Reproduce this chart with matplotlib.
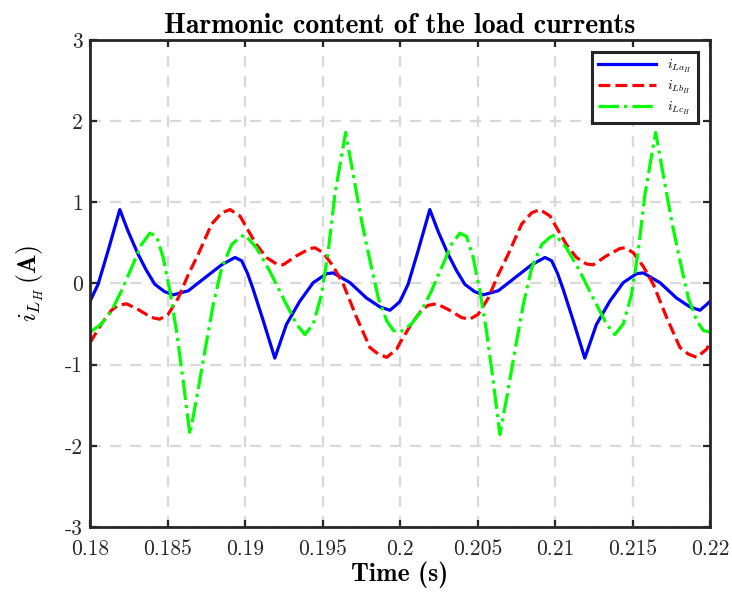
import numpy as np
import matplotlib
matplotlib.use('Agg')
import matplotlib.pyplot as plt

plt.rcParams.update({
    'font.family': 'serif',
    'font.serif': ['cmr10'],
    'mathtext.fontset': 'cm',
    'axes.unicode_minus': False,
    'axes.formatter.use_mathtext': True,
})

# Load current harmonic content, phase a / b / c (A)
t_a = [0.1800, 0.18052, 0.18116, 0.18192, 0.18246, 0.1831, 0.18364, 0.18418, 0.1848, 0.18537,
       0.18634, 0.18741, 0.18849, 0.18935, 0.18978, 0.19017, 0.19052, 0.19116, 0.19192, 0.19267,
       0.19353, 0.1944, 0.19526, 0.19569, 0.19677, 0.19784, 0.19871, 0.19935, 0.19978,
       0.2000, 0.20052, 0.20116, 0.20192, 0.20246, 0.2031, 0.20364, 0.20418, 0.2048, 0.20537,
       0.20634, 0.20741, 0.20849, 0.20935, 0.20978, 0.21017, 0.21052, 0.21116, 0.21192, 0.21267,
       0.21353, 0.2144, 0.21526, 0.21569, 0.21677, 0.21784, 0.21871, 0.21935, 0.21978, 0.2200]
i_a = [-0.22, -0.01, 0.40, 0.91, 0.64, 0.36, 0.16, -0.01, -0.10, -0.14,
       -0.09, 0.07, 0.23, 0.32, 0.28, 0.12, -0.07, -0.45, -0.92, -0.505,
       -0.22, 0.01, 0.12, 0.13, 0.01, -0.18, -0.29, -0.33, -0.26,
       -0.22, -0.01, 0.40, 0.91, 0.64, 0.36, 0.16, -0.01, -0.10, -0.14,
       -0.09, 0.07, 0.23, 0.32, 0.28, 0.12, -0.07, -0.45, -0.92, -0.505,
       -0.22, 0.01, 0.12, 0.13, 0.01, -0.18, -0.29, -0.33, -0.26, -0.22]

t_b = [0.1800, 0.18073, 0.18138, 0.18181, 0.18235, 0.1831, 0.18397, 0.1845, 0.18504, 0.18569,
       0.18634, 0.18698, 0.18784, 0.18849, 0.18903, 0.18968, 0.1900, 0.19073, 0.19138, 0.19203,
       0.19246, 0.19332, 0.19418, 0.1945, 0.19504, 0.19569, 0.19634, 0.1972, 0.19806, 0.1986,
       0.19914, 0.19978,
       0.2000, 0.20073, 0.20138, 0.20181, 0.20235, 0.2031, 0.20397, 0.2045, 0.20504, 0.20569,
       0.20634, 0.20698, 0.20784, 0.20849, 0.20903, 0.20968, 0.2100, 0.21073, 0.21138, 0.21203,
       0.21246, 0.21332, 0.21418, 0.2145, 0.21504, 0.21569, 0.21634, 0.2172, 0.21806, 0.2186,
       0.21914, 0.21978, 0.2200]
i_b = [-0.73, -0.50, -0.33, -0.27, -0.25, -0.32, -0.42, -0.44, -0.38, -0.18,
       0.11, 0.36, 0.73, 0.87, 0.91, 0.83, 0.72, 0.48, 0.32, 0.24,
       0.23, 0.34, 0.43, 0.44, 0.38, 0.21, -0.01, -0.42, -0.79, -0.87,
       -0.91, -0.81,
       -0.73, -0.50, -0.33, -0.27, -0.25, -0.32, -0.42, -0.44, -0.38, -0.18,
       0.11, 0.36, 0.73, 0.87, 0.91, 0.83, 0.72, 0.48, 0.32, 0.24,
       0.23, 0.34, 0.43, 0.44, 0.38, 0.21, -0.01, -0.42, -0.79, -0.87,
       -0.91, -0.81, -0.73]

t_c = [0.1800, 0.18073, 0.18138, 0.18203, 0.18267, 0.18332, 0.18386, 0.18429, 0.18472, 0.18515,
       0.18558, 0.18601, 0.18644, 0.18688, 0.18741, 0.18795, 0.18849, 0.18914, 0.18968, 0.1900,
       0.19073, 0.1916, 0.19246, 0.19332, 0.19386, 0.1944, 0.19493, 0.19537, 0.1958, 0.19649,
       0.19698, 0.19752, 0.19806, 0.1986, 0.19914, 0.19957,
       0.2000, 0.20073, 0.20138, 0.20203, 0.20267, 0.20332, 0.20386, 0.20429, 0.20472, 0.20515,
       0.20558, 0.20601, 0.20644, 0.20688, 0.20741, 0.20795, 0.20849, 0.20914, 0.20968, 0.2100,
       0.21073, 0.2116, 0.21246, 0.21332, 0.21386, 0.2144, 0.21493, 0.21537, 0.2158, 0.21649,
       0.21698, 0.21752, 0.21806, 0.2186, 0.21914, 0.21957, 0.2200]
i_c = [-0.60, -0.50, -0.34, -0.09, 0.19, 0.48, 0.62, 0.58, 0.32, -0.09,
       -0.59, -1.20, -1.86, -1.41, -0.83, -0.26, 0.19, 0.48, 0.57, 0.60,
       0.44, 0.15, -0.18, -0.50, -0.63, -0.50, -0.14, 0.40, 1.10, 1.86,
       1.34, 0.77, 0.28, -0.18, -0.46, -0.58,
       -0.60, -0.50, -0.34, -0.09, 0.19, 0.48, 0.62, 0.58, 0.32, -0.09,
       -0.59, -1.20, -1.86, -1.41, -0.83, -0.26, 0.19, 0.48, 0.57, 0.60,
       0.44, 0.15, -0.18, -0.50, -0.63, -0.50, -0.14, 0.40, 1.10, 1.86,
       1.34, 0.77, 0.28, -0.18, -0.46, -0.58, -0.60]

x_ticks = [0.18, 0.185, 0.19, 0.195, 0.2, 0.205, 0.21, 0.215, 0.22]
x_labels = ['0.18', '0.185', '0.19', '0.195', '0.2', '0.205', '0.21', '0.215', '0.22']
y_ticks = [-3, -2, -1, 0, 1, 2, 3]
y_labels = ['-3', '-2', '-1', '0', '1', '2', '3']

fig = plt.figure(figsize=(7.32, 5.94), dpi=100)
ax = fig.add_axes([0.123, 0.1128, 0.847, 0.82])

ax.plot(t_a, i_a, color=(0, 0, 1), lw=2.3, label=r'$i_{La_H}$')
ax.plot(t_b, i_b, color=(1, 0, 0), lw=2.3, ls='--', label=r'$i_{Lb_H}$')
ax.plot(t_c, i_c, color=(0, 1, 0), lw=2.3, ls='-.', label=r'$i_{Lc_H}$')

ax.set_xlim(0.18, 0.22)
ax.set_ylim(-3, 3)
ax.set_xticks(x_ticks)
ax.set_xticklabels(x_labels)
ax.set_yticks(y_ticks)
ax.set_yticklabels(y_labels)
ax.tick_params(direction='in', length=5, width=1.6, labelsize=15.5,
               top=True, right=True, colors='#262626')
ax.tick_params(axis='x', pad=9)
ax.tick_params(axis='y', pad=5)
for lbl in ax.get_xticklabels() + ax.get_yticklabels():
    lbl.set_color('#262626')

ax.grid(True, color='#d9d9d9', lw=1.6, dashes=(5, 4))
ax.set_axisbelow(True)
for s in ax.spines.values():
    s.set_linewidth(2.0)
    s.set_color('#262626')

ax.set_title('Harmonic content of the load currents', fontfamily='cmb10',
             fontsize=20, pad=5)
ax.set_xlabel('Time (s)', fontfamily='cmb10', fontsize=18.5, labelpad=2)
ax.set_ylabel(r'$i_{L_H}\,\mathbf{(A)}$', fontsize=18.5, labelpad=14)

leg = ax.legend(loc='upper right', fontsize=10, handlelength=4.2,
                fancybox=False, framealpha=1, edgecolor='#262626',
                borderaxespad=0.9, labelspacing=0.3, borderpad=0.4)
leg.get_frame().set_linewidth(2.2)

fig.savefig('out.png', dpi=100)
